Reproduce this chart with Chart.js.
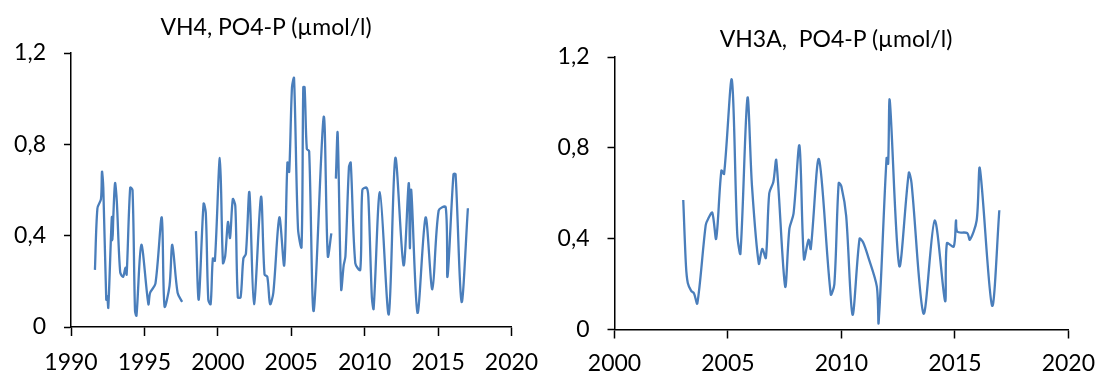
<!DOCTYPE html>
<html>
<head>
<meta charset="utf-8">
<script src="https://cdn.jsdelivr.net/npm/chart.js@4.4.1/dist/chart.umd.min.js"></script>
<style>
  html, body { margin: 0; padding: 0; background: #fff; }
  body { width: 1106px; height: 376px; position: relative; overflow: hidden; }
  .box { position: absolute; top: 0; width: 553px; height: 376px; }
  .title { position: absolute; font-family: Lato, sans-serif; font-size: 23px; color: #000; white-space: pre; transform: translate(-50%, -50%); }
</style>
</head>
<body>
<div class="box" style="left:0"><canvas id="vh4"></canvas></div>
<div class="box" style="left:553px"><canvas id="vh3a"></canvas></div>
<div class="title" style="left:266px; top:26px">VH4, PO4-P (µmol/l)</div>
<div class="title" style="left:836px; top:38px">VH3A,  PO4-P (µmol/l)</div>
<script>
// VH4 station, null marks a gap in the series
const vh4Years = [
  1991.63, 1991.80, 1992.04, 1992.11, 1992.20, 1992.40, 1992.47, 1992.54, 1992.78, 1992.83,
  1992.88, 1993.00, 1993.12, 1993.35, 1993.55, 1993.71, 1993.79, 1994.03, 1994.19, 1994.36,
  1994.46, 1994.79, 1995.27, 1995.39, 1995.75, 1996.18, 1996.37, 1996.71, 1996.90, 1997.26,
  1997.57, 1998.00,
  1998.51, 1998.70, 1999.03, 1999.18, 1999.35, 1999.51, 1999.66, 1999.80, 2000.14, 2000.35,
  2000.50, 2000.69, 2000.83, 2001.02, 2001.19, 2001.36, 2001.55, 2001.74, 2001.91, 2002.15,
  2002.46, 2002.94, 2003.18, 2003.37, 2003.56, 2003.78, 2004.19, 2004.52, 2004.74, 2004.86,
  2005.05, 2005.19, 2005.46, 2005.70, 2005.82, 2005.91, 2006.06, 2006.22, 2006.53, 2007.21,
  2007.49, 2007.73, 2007.90,
  2008.04, 2008.16, 2008.40, 2008.57, 2008.69, 2008.93, 2009.05, 2009.36, 2009.70, 2009.84,
  2010.13, 2010.25, 2010.49, 2010.61, 2011.04, 2011.64, 2012.09, 2012.65, 2013.00, 2013.08,
  2013.17, 2013.60, 2014.15, 2014.61, 2015.04, 2015.52, 2015.64, 2016.05, 2016.19, 2016.60,
  2017.03
];
const vh4Values = [
  0.25, 0.52, 0.56, 0.68, 0.61, 0.12, 0.135, 0.085, 0.48, 0.38,
  0.48, 0.63, 0.55, 0.24, 0.22, 0.26, 0.23, 0.61, 0.60, 0.07,
  0.05, 0.36, 0.10, 0.15, 0.19, 0.48, 0.09, 0.18, 0.36, 0.15,
  0.11, null,
  0.42, 0.12, 0.54, 0.50, 0.12, 0.10, 0.30, 0.29, 0.74, 0.28,
  0.31, 0.46, 0.39, 0.56, 0.53, 0.13, 0.13, 0.30, 0.32, 0.59,
  0.10, 0.57, 0.23, 0.22, 0.10, 0.15, 0.48, 0.27, 0.72, 0.68,
  1.05, 1.09, 0.43, 0.35, 1.05, 1.05, 0.78, 0.77, 0.07, 0.92,
  0.31, 0.41, null,
  0.65, 0.85, 0.165, 0.27, 0.31, 0.70, 0.72, 0.28, 0.25, 0.60,
  0.61, 0.57, 0.13, 0.08, 0.59, 0.055, 0.74, 0.27, 0.63, 0.345,
  0.60, 0.062, 0.48, 0.165, 0.51, 0.525, 0.22, 0.67, 0.67, 0.11,
  0.52
];

// VH3A station
const vh3aYears = [
  2003.03, 2003.15, 2003.23, 2003.38, 2003.50, 2003.65, 2004.02, 2004.14, 2004.31, 2004.48,
  2004.71, 2004.83, 2005.17, 2005.41, 2005.55, 2005.86, 2006.06, 2006.36, 2006.51, 2006.67,
  2006.82, 2007.00, 2007.13, 2007.52, 2007.71, 2007.89, 2008.15, 2008.35, 2008.55, 2008.65,
  2009.01, 2009.53, 2009.69, 2009.88, 2010.00, 2010.21, 2010.49, 2010.80, 2010.95, 2011.18,
  2011.56, 2011.64, 2011.99, 2012.06, 2012.13, 2012.55, 2012.97, 2013.09, 2013.62, 2014.11,
  2014.57, 2014.65, 2014.95, 2015.05, 2015.11, 2015.54, 2015.66, 2015.96, 2016.10, 2016.64,
  2016.96
];
const vh3aValues = [
  0.57, 0.28, 0.205, 0.17, 0.16, 0.115, 0.46, 0.49, 0.515, 0.40,
  0.70, 0.685, 1.10, 0.42, 0.335, 1.02, 0.63, 0.29, 0.355, 0.315,
  0.60, 0.65, 0.745, 0.19, 0.445, 0.51, 0.81, 0.31, 0.395, 0.355,
  0.75, 0.155, 0.20, 0.645, 0.63, 0.50, 0.065, 0.40, 0.385, 0.32,
  0.19, 0.03, 0.755, 0.73, 1.01, 0.28, 0.69, 0.645, 0.07, 0.48,
  0.125, 0.38, 0.365, 0.48, 0.43, 0.425, 0.395, 0.48, 0.71, 0.105,
  0.525
];

const yTicks = [0, 0.4, 0.8, 1.2];

Chart.defaults.font.family = 'Lato, sans-serif';
Chart.defaults.font.size = 23;
Chart.defaults.color = '#000';

function makeChart(id, years, values, xMin, pad, yWidth, xHeight, xPad) {
  const points = years.map((x, i) => ({ x: x, y: values[i] }));
  return new Chart(document.getElementById(id), {
    type: 'line',
    data: {
      datasets: [{
        data: points,
        borderColor: '#4a7ebb',
        borderWidth: 2.3,
        pointRadius: 0,
        tension: 0.3,
        spanGaps: false
      }]
    },
    options: {
      responsive: false,
      animation: false,
      maintainAspectRatio: false,
      layout: { padding: pad },
      plugins: { legend: { display: false }, tooltip: { enabled: false } },
      scales: {
        x: {
          type: 'linear',
          min: xMin,
          max: 2020,
          afterFit: s => { s.height = xHeight; },
          ticks: { stepSize: 5, padding: xPad, callback: v => String(v) },
          grid: { drawOnChartArea: false, color: '#000', tickLength: 9, tickWidth: 1.5 },
          border: { color: '#000', width: 1.5 }
        },
        y: {
          min: 0,
          max: 1.2,
          afterFit: s => { s.width = yWidth; },
          afterBuildTicks: s => { s.ticks = yTicks.map(v => ({ value: v })); },
          ticks: { padding: 18, callback: v => String(Math.round(v * 10) / 10).replace('.', ',') },
          grid: { drawOnChartArea: false, color: '#000', tickLength: 7, tickWidth: 1.5 },
          border: { color: '#000', width: 1.5 }
        }
      }
    }
  });
}

for (const c of ['vh4', 'vh3a']) {
  const el = document.getElementById(c);
  el.width = 553; el.height = 376;
  el.style.width = '553px'; el.style.height = '376px';
}

makeChart('vh4', vh4Years, vh4Values, 1990, { top: 53, right: 41.5, bottom: 0, left: 0 }, 71, 49, 13);
makeChart('vh3a', vh3aYears, vh3aValues, 2000, { top: 57, right: 30.5, bottom: 0, left: 0 }, 61.5, 46.5, 11);
</script>
</body>
</html>
